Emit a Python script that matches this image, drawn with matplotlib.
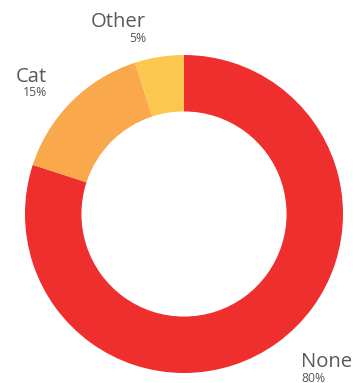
import matplotlib
matplotlib.use("Agg")
import matplotlib.pyplot as plt

categories = ["None", "Cat", "Other"]
shares = [80, 15, 5]
colors = ["#EF2E2E", "#F9A94B", "#FBC74F"]

W, H = 358, 383
fig = plt.figure(figsize=(W / 100, H / 100), dpi=100)
fig.patch.set_facecolor("white")

# square axes centred on the ring
cx, cy, r = 184, 214, 159
ax = fig.add_axes([(cx - r) / W, (H - cy - r) / H, 2 * r / W, 2 * r / H])
ax.pie(shares, colors=colors, startangle=90, counterclock=False,
       radius=1.0, wedgeprops=dict(width=0.355, linewidth=0))
ax.set_xlim(-1, 1)
ax.set_ylim(-1, 1)
ax.set_aspect("equal")
ax.axis("off")

# outside labels: name above, percentage below
label_pos = {
    "None": (301, 367, "left"),
    "Cat": (47, 82, "right"),
    "Other": (146, 27, "right"),
}
txt_color = "#595959"
for name, val in zip(categories, shares):
    x, y, ha = label_pos[name]
    fig.text(x / W, 1 - y / H, name, ha=ha, va="baseline",
             fontsize=14.6, color=txt_color, family="Open Sans")
    fig.text(x / W, 1 - (y + 14.5) / H, f"{val}%", ha=ha, va="baseline",
             fontsize=8.8, color=txt_color, family="Open Sans")

fig.savefig("out.png", dpi=100)
